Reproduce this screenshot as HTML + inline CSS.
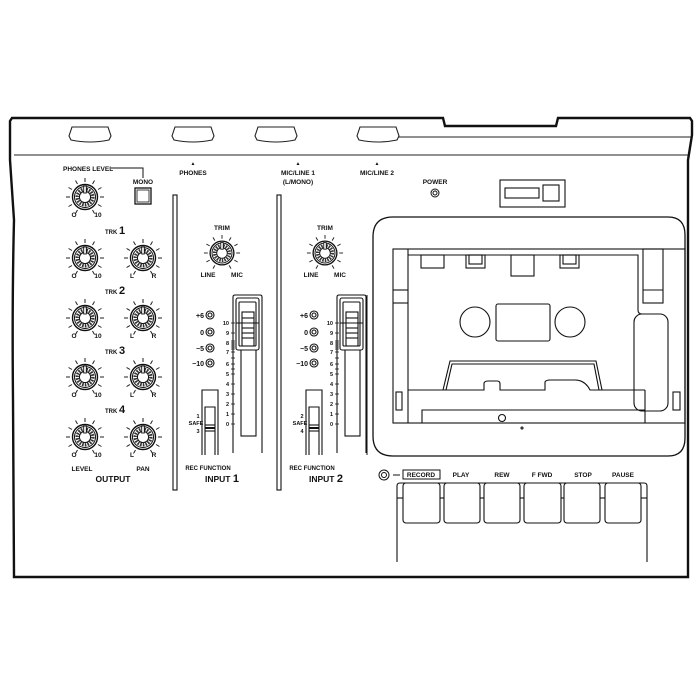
<!DOCTYPE html>
<html><head><meta charset="utf-8"><style>
html,body{margin:0;padding:0;background:#fff;width:700px;height:700px;overflow:hidden}
svg{display:block}
text{font-family:"Liberation Sans",sans-serif;font-weight:bold;fill:#111}
</style></head><body>
<svg width="700" height="700" viewBox="0 0 700 700" xmlns="http://www.w3.org/2000/svg">
<defs>
<g id="knob">
 <g stroke="#222" stroke-width="1">
  <line y1="-15" y2="-19" transform="rotate(-150)"/><line y1="-15" y2="-19" transform="rotate(-120)"/>
  <line y1="-15" y2="-19" transform="rotate(-90)"/><line y1="-15" y2="-19" transform="rotate(-60)"/>
  <line y1="-15" y2="-19" transform="rotate(-30)"/><line y1="-15" y2="-19"/>
  <line y1="-15" y2="-19" transform="rotate(30)"/><line y1="-15" y2="-19" transform="rotate(60)"/>
  <line y1="-15" y2="-19" transform="rotate(90)"/><line y1="-15" y2="-19" transform="rotate(120)"/>
  <line y1="-15" y2="-19" transform="rotate(150)"/>
 </g>
 <circle r="12.5" fill="#fff" stroke="#111" stroke-width="1.4"/>
 <circle r="10.5" fill="none" stroke="#111" stroke-width="1"/>
 <circle r="7.8" fill="none" stroke="#333" stroke-width="3.4" stroke-dasharray="1.6 1.1"/>
 <circle r="5.6" fill="#fff" stroke="#111" stroke-width="1"/>
 <rect x="-1.3" y="-11" width="2.6" height="7" fill="#fff" stroke="#111" stroke-width="0.9"/>
</g>
<g id="bump">
 <path d="M-18 0 L18 0 L21 9 L19 13 Q0 17 -19 13 L-21 9 Z" fill="#fff" stroke="#222" stroke-width="1.1"/>
</g>
<g id="chan">
 <g fill="#fff" stroke="#111" stroke-width="1.1">
  <circle cx="210" cy="315" r="4"/><circle cx="210" cy="315" r="2"/>
  <circle cx="210" cy="332" r="4"/><circle cx="210" cy="332" r="2"/>
  <circle cx="210" cy="348" r="4"/><circle cx="210" cy="348" r="2"/>
  <circle cx="210" cy="363" r="4"/><circle cx="210" cy="363" r="2"/>
 </g>
 <g font-size="7" text-anchor="end">
  <text x="204" y="318">+6</text><text x="204" y="335">0</text>
  <text x="204" y="351">−5</text><text x="204" y="366">−10</text>
 </g>
 <g font-size="5.5" text-anchor="end">
  <text x="229" y="325">10</text><text x="229" y="335">9</text><text x="229" y="345">8</text>
  <text x="229" y="354">7</text><text x="229" y="366">6</text><text x="229" y="376">5</text>
  <text x="229" y="386">4</text><text x="229" y="396">3</text><text x="229" y="406">2</text>
  <text x="229" y="416">1</text><text x="229" y="426">0</text>
 </g>
 <g stroke="#222" stroke-width="0.8">
  <line x1="231" y1="323" x2="235" y2="323"/><line x1="231" y1="333" x2="235" y2="333"/>
  <line x1="231" y1="341" x2="235" y2="341"/><line x1="231" y1="343" x2="235" y2="343"/>
  <line x1="231" y1="345" x2="235" y2="345"/><line x1="231" y1="347" x2="235" y2="347"/>
  <line x1="231" y1="349" x2="235" y2="349"/><line x1="231" y1="352" x2="235" y2="352"/>
  <line x1="231" y1="358" x2="235" y2="358"/><line x1="231" y1="364" x2="235" y2="364"/>
  <line x1="231" y1="369" x2="235" y2="369"/><line x1="231" y1="374" x2="235" y2="374"/>
  <line x1="231" y1="384" x2="235" y2="384"/><line x1="231" y1="394" x2="235" y2="394"/>
  <line x1="231" y1="404" x2="235" y2="404"/><line x1="231" y1="414" x2="235" y2="414"/>
  <line x1="231" y1="424" x2="235" y2="424"/>
 </g>
 <g fill="none" stroke="#111" stroke-width="1.1">
  <path d="M233 453 L233 297 Q233 295 235 295 L260 295 Q262 295 262 297 L262 453"/>
  <rect x="241" y="312" width="15" height="124"/>
  <rect x="236" y="298" width="23" height="52" rx="2" fill="#fff"/>
  <rect x="239" y="302" width="17" height="44" rx="1"/>
  <rect x="242" y="312" width="12" height="34"/>
  <line x1="236" y1="323" x2="259" y2="323"/>
  <line x1="242" y1="318" x2="254" y2="318"/><line x1="242" y1="328" x2="254" y2="328"/>
  <line x1="242" y1="333" x2="254" y2="333"/><line x1="242" y1="338" x2="254" y2="338"/>
  <path d="M202 455 L202 390 L218 390 L218 455"/>
  <path d="M205 455 L205 407 L215 407 L215 455"/>
  <line x1="205" y1="425" x2="215" y2="425"/><line x1="205" y1="431" x2="215" y2="431"/>
  <line x1="205" y1="428" x2="215" y2="428" stroke-width="2"/>
 </g>
 <text x="208" y="470" font-size="6" text-anchor="middle">REC FUNCTION</text>
</g>
</defs>

<path d="M10 121 L12 118 L443 118 L445 126 L556 126 L558 118 L690 118 L692 121 L692 135 L688 160 L688 577 L14 577 L13 400 Q12 300 14 220 L10 160 Z" fill="#fff" stroke="#111" stroke-width="2.4"/>
<line x1="14" y1="155" x2="688" y2="155" stroke="#222" stroke-width="1.1"/>
<line x1="360" y1="137" x2="691" y2="137" stroke="#222" stroke-width="1.1"/>

<use href="#bump" x="90" y="127"/>
<use href="#bump" x="193" y="127"/>
<use href="#bump" x="276" y="127"/>
<use href="#bump" x="378" y="127"/>

<g font-size="6.5" text-anchor="middle">
 <text x="193" y="165" font-size="5">▲</text><text x="193" y="175">PHONES</text>
 <text x="298" y="165" font-size="5">▲</text><text x="298" y="175">MIC/LINE 1</text><text x="298" y="184">(L/MONO)</text>
 <text x="377" y="165" font-size="5">▲</text><text x="377" y="175">MIC/LINE 2</text>
 <text x="435" y="184">POWER</text>
</g>
<circle cx="435" cy="193" r="4" fill="none" stroke="#111"/><circle cx="435" cy="193" r="2" fill="none" stroke="#111"/>
<g fill="none" stroke="#111" stroke-width="1.1">
 <rect x="500" y="180" width="65" height="27"/>
 <rect x="505" y="188" width="34" height="10"/>
 <rect x="543" y="185" width="16" height="16"/>
</g>

<text x="63" y="171" font-size="6.5">PHONES LEVEL</text>
<path d="M111 168 L143 168 L143 178" fill="none" stroke="#111"/>
<text x="143" y="184" font-size="6.5" text-anchor="middle">MONO</text>
<rect x="135" y="188" width="16" height="16" fill="none" stroke="#111" stroke-width="1.3"/>
<rect x="137" y="190" width="12" height="12" fill="none" stroke="#111" stroke-width="0.8"/>
<use href="#knob" x="85" y="197"/>
<use href="#knob" x="85" y="258"/><use href="#knob" x="143" y="258"/>
<use href="#knob" x="85" y="318"/><use href="#knob" x="143" y="318"/>
<use href="#knob" x="85" y="377"/><use href="#knob" x="143" y="377"/>
<use href="#knob" x="85" y="437"/><use href="#knob" x="143" y="437"/>
<g font-size="6.5" text-anchor="middle">
 <text x="74" y="217">O</text><text x="98" y="217">10</text>
 <text x="74" y="278">O</text><text x="98" y="278">10</text><text x="132" y="278">L</text><text x="154" y="278">R</text>
 <text x="74" y="338">O</text><text x="98" y="338">10</text><text x="132" y="338">L</text><text x="154" y="338">R</text>
 <text x="74" y="397">O</text><text x="98" y="397">10</text><text x="132" y="397">L</text><text x="154" y="397">R</text>
 <text x="74" y="457">O</text><text x="98" y="457">10</text><text x="132" y="457">L</text><text x="154" y="457">R</text>
 <text x="82" y="471">LEVEL</text><text x="143" y="471">PAN</text>
 <text x="113" y="482" font-size="8.5">OUTPUT</text>
</g>
<g>
 <text x="105" y="234" font-size="6">TRK <tspan font-size="11">1</tspan></text>
 <text x="105" y="294" font-size="6">TRK <tspan font-size="11">2</tspan></text>
 <text x="105" y="354" font-size="6">TRK <tspan font-size="11">3</tspan></text>
 <text x="105" y="413" font-size="6">TRK <tspan font-size="11">4</tspan></text>
</g>

<g fill="#fff" stroke="#111" stroke-width="1.1">
 <rect x="173" y="195" width="4" height="295"/>
 <rect x="277" y="195" width="4" height="295"/>
</g>

<use href="#knob" transform="translate(222,253) scale(0.95)"/>
<use href="#knob" transform="translate(325,253) scale(0.95)"/>
<g font-size="6.5" text-anchor="middle">
 <text x="222" y="230">TRIM</text><text x="208" y="277">LINE</text><text x="237" y="277">MIC</text>
 <text x="325" y="230">TRIM</text><text x="311" y="277">LINE</text><text x="340" y="277">MIC</text>
</g>
<use href="#chan"/>
<use href="#chan" x="104"/>
<g font-size="5.5" text-anchor="middle">
 <text x="198" y="418">1</text><text x="196" y="425">SAFE</text><text x="198" y="433">3</text>
 <text x="302" y="418">2</text><text x="300" y="425">SAFE</text><text x="302" y="433">4</text>
</g>
<text x="222" y="482" font-size="8.5" text-anchor="middle">INPUT <tspan font-size="11">1</tspan></text>
<text x="326" y="482" font-size="8.5" text-anchor="middle">INPUT <tspan font-size="11">2</tspan></text>
<line x1="367" y1="295" x2="367" y2="455" stroke="#111" stroke-width="1"/>

<g fill="none" stroke="#111" stroke-width="1.1">
 <path d="M393 217 L668 217 Q685 217 685 235 L685 438 Q685 456 668 456 L393 456 Q373 456 373 436 L373 237 Q373 217 393 217 Z" stroke-width="1.3"/>
 <rect x="393" y="249" width="292" height="174"/>
 <line x1="408" y1="249" x2="408" y2="423"/>
 <line x1="393" y1="290" x2="408" y2="290"/><line x1="393" y1="303" x2="408" y2="303"/>
 <path d="M408 255 L638 255 L638 310 Q638 314 642 314"/>
 <rect x="634" y="314" width="34" height="97" rx="8"/>
 <rect x="643" y="249" width="20" height="54"/><line x1="643" y1="290" x2="663" y2="290"/>
 <rect x="421" y="255" width="23" height="13"/>
 <rect x="466" y="255" width="19" height="13"/><rect x="469" y="255" width="13" height="9"/>
 <rect x="511" y="255" width="23" height="21"/>
 <rect x="560" y="255" width="19" height="13"/><rect x="563" y="255" width="13" height="9"/>
 <circle cx="475" cy="322" r="15"/><circle cx="570" cy="322" r="15"/>
 <rect x="496" y="304" width="54" height="37" rx="2"/>
 <path d="M443 390 L450 361 L596 361 L602 390"/>
 <path d="M446 390 L452 364 L594 364 L599 390"/>
 <path d="M408 390 L484 390 L484 383 Q485 381 488 381 L497 381 Q500 381 500 384 L500 390 L545 390 L545 382 Q546 380 550 380 L575 380 Q585 380 590 390 L645 390"/>
 <line x1="645" y1="390" x2="645" y2="423"/>
 <path d="M422 423 L422 410 L645 410"/>
 <circle cx="502" cy="418" r="3.5"/>
 <circle cx="522" cy="428" r="1"/>
 <rect x="396" y="392" width="6" height="18"/>
 <rect x="673" y="392" width="7" height="18"/>
</g>

<circle cx="384" cy="475" r="5" fill="none" stroke="#111"/><circle cx="384" cy="475" r="2.5" fill="none" stroke="#111"/>
<line x1="393" y1="475" x2="400" y2="475" stroke="#111"/>
<rect x="403" y="470" width="37" height="9" fill="none" stroke="#111"/>
<g font-size="6.5" text-anchor="middle">
 <text x="421" y="477" font-weight="normal">RECORD</text>
 <text x="461" y="477">PLAY</text><text x="502" y="477">REW</text><text x="542" y="477">F FWD</text>
 <text x="583" y="477">STOP</text><text x="623" y="477">PAUSE</text>
</g>
<g fill="none" stroke="#111" stroke-width="1.1">
 <path d="M397 562 L397 486 Q397 483 400 483 L644 483 Q647 483 647 486 L647 562"/>
 <rect x="403" y="483" width="37" height="40" rx="3"/>
 <rect x="444" y="483" width="36" height="40" rx="3"/>
 <rect x="484" y="483" width="36" height="40" rx="3"/>
 <rect x="524" y="483" width="37" height="40" rx="3"/>
 <rect x="564" y="483" width="36" height="40" rx="3"/>
 <rect x="605" y="483" width="36" height="40" rx="3"/>
 <line x1="397" y1="498" x2="403" y2="498"/><line x1="440" y1="498" x2="444" y2="498"/>
 <line x1="480" y1="498" x2="484" y2="498"/><line x1="520" y1="498" x2="524" y2="498"/>
 <line x1="561" y1="498" x2="564" y2="498"/><line x1="600" y1="498" x2="605" y2="498"/>
 <line x1="641" y1="498" x2="647" y2="498"/>
</g>
</svg>
</body></html>
